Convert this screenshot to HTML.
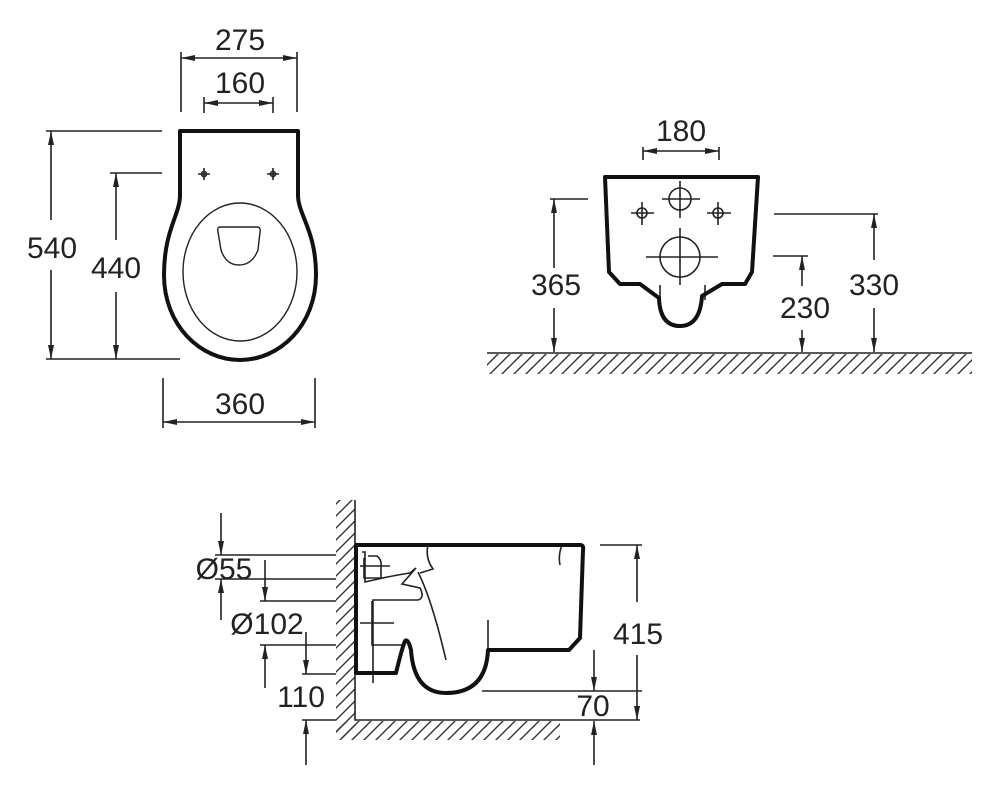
<!DOCTYPE html>
<html><head><meta charset="utf-8"><style>html,body{margin:0;padding:0;background:#fff}svg{display:block}</style></head>
<body>
<svg width="1000" height="793" viewBox="0 0 1000 793" xmlns="http://www.w3.org/2000/svg">
<defs>
<marker id="a" viewBox="0 0 14 6" refX="14" refY="3" markerWidth="14" markerHeight="6" markerUnits="userSpaceOnUse" orient="auto-start-reverse"><path d="M0,0 L14,3 L0,6 Z" fill="#222"/></marker>
<pattern id="h" width="12" height="12" patternUnits="userSpaceOnUse"><path d="M-3,15 L15,-3 M-3,3 L3,-3 M9,15 L15,9" stroke="#333" stroke-width="1.4"/></pattern>
</defs>
<g font-family="Liberation Sans, sans-serif" font-size="30" fill="#222" text-anchor="middle">
<text x="240" y="50">275</text><text x="240" y="93">160</text>
<text x="52" y="258">540</text><text x="116" y="278">440</text>
<text x="240" y="414">360</text>
<text x="681" y="141">180</text>
<text x="556" y="295">365</text><text x="874" y="295">330</text><text x="805" y="318">230</text>
<text x="224" y="579">Ø55</text><text x="267" y="634">Ø102</text>
<text x="301" y="707">110</text><text x="638" y="644">415</text><text x="593" y="716">70</text>
</g>
<g stroke="#222" stroke-width="1.6" fill="none">
<path d="M181,52V112M297,52V112M204,97V113M273,97V113"/>
<path d="M181,58H297" marker-start="url(#a)" marker-end="url(#a)"/>
<path d="M204,103H273" marker-start="url(#a)" marker-end="url(#a)"/>
<path d="M46,131H162M110,173H162M46,359H180"/>
<path d="M51,220V131" marker-end="url(#a)"/><path d="M51,270V359" marker-end="url(#a)"/>
<path d="M116,240V173" marker-end="url(#a)"/><path d="M116,292V359" marker-end="url(#a)"/>
<path d="M163,378V428M315,378V428"/>
<path d="M163,422H315" marker-start="url(#a)" marker-end="url(#a)"/>
<ellipse cx="240" cy="272" rx="57" ry="69" stroke-width="1.4"/>
<path d="M220,227H257Q261,227 260,232L258,250Q252,265 239,265Q226,265 221,250L218,232Q217,227 220,227Z" stroke-width="1.4"/>
<path d="M198,174H210M204,168V180M267,174H279M273,168V180"/>
<circle cx="204" cy="174" r="2.5"/><circle cx="273" cy="174" r="2.5"/>
</g>
<path d="M180,131H298V195C298,215 316,230 316,275C316,325 280,360 240,360C200,360 164,325 164,275C164,230 180,215 180,195Z" stroke="#111" stroke-width="4" fill="none" stroke-linejoin="round"/>
<g stroke="#222" stroke-width="1.6" fill="none">
<path d="M643,147V160M719,147V160"/>
<path d="M643,151H719" marker-start="url(#a)" marker-end="url(#a)"/>
<path d="M550,199H588M774,214H878M773,256H808"/>
<path d="M554,268V199" marker-end="url(#a)"/><path d="M554,308V352" marker-end="url(#a)"/>
<path d="M874,260V214" marker-end="url(#a)"/><path d="M874,308V352" marker-end="url(#a)"/>
<path d="M802,286V256" marker-end="url(#a)"/><path d="M802,330V352" marker-end="url(#a)"/>
<circle cx="680" cy="199" r="11"/><path d="M662,199H700M680,181V218"/>
<circle cx="642" cy="213" r="5"/><path d="M631,213H654M642,202V225"/>
<circle cx="718" cy="213" r="5"/><path d="M707,213H731M718,202V225"/>
<circle cx="680" cy="257" r="20"/><path d="M646,257H718M680,228V285"/>
<path d="M660,285V300M705,285V300"/>
<path d="M487,353H972"/>
</g>
<rect x="487" y="354" width="485" height="20" fill="url(#h)"/>
<path d="M605,177H758L752,272L745,284H722L702,296Q700,326 680,326Q660,326 659,298L640,284H620L609,272Z" stroke="#111" stroke-width="4" fill="none" stroke-linejoin="round"/>
<rect x="336" y="500" width="19" height="238" fill="url(#h)"/>
<rect x="336" y="721" width="224" height="19" fill="url(#h)"/>
<g stroke="#222" stroke-width="1.6" fill="none">
<path d="M355,500V720H640"/>
<path d="M215,555H336M215,579H336M260,601H336M260,645H336M302,674H336M302,720H336"/>
<path d="M221,513V555" marker-end="url(#a)"/><path d="M221,620V579" marker-end="url(#a)"/>
<path d="M265,560V601" marker-end="url(#a)"/><path d="M265,688V645" marker-end="url(#a)"/>
<path d="M306,632V674" marker-end="url(#a)"/><path d="M306,765V720" marker-end="url(#a)"/>
<path d="M600,545H642M482,691H642"/>
<path d="M637,602V545" marker-end="url(#a)"/><path d="M637,655V720" marker-end="url(#a)"/>
<path d="M594,650V691" marker-end="url(#a)"/><path d="M594,765V721" marker-end="url(#a)"/>
<path d="M362,552H365V582Q390,576 410,573L416,568L402,584L420,588Q425,598 418,600H373V683"/>
<path d="M372,601V645H402"/>
<path d="M360,623H394"/>
<path d="M364,558V578H381V566Q382,560 377,556H368"/>
<path d="M360,566H390"/>
<path d="M420,573L433,569Q425,558 428,545M418,572Q432,600 446,660"/>
<path d="M488,650V620M562,545Q558,555 560,565"/>
</g>
<path d="M356,545H580Q584,545 583,550L580,638L569,650H488Q486,693 446,693Q414,693 411,650Q408,638 405,641Q402,648 396,673H356Z" stroke="#111" stroke-width="4" fill="none" stroke-linejoin="round"/>
</svg>
</body></html>
